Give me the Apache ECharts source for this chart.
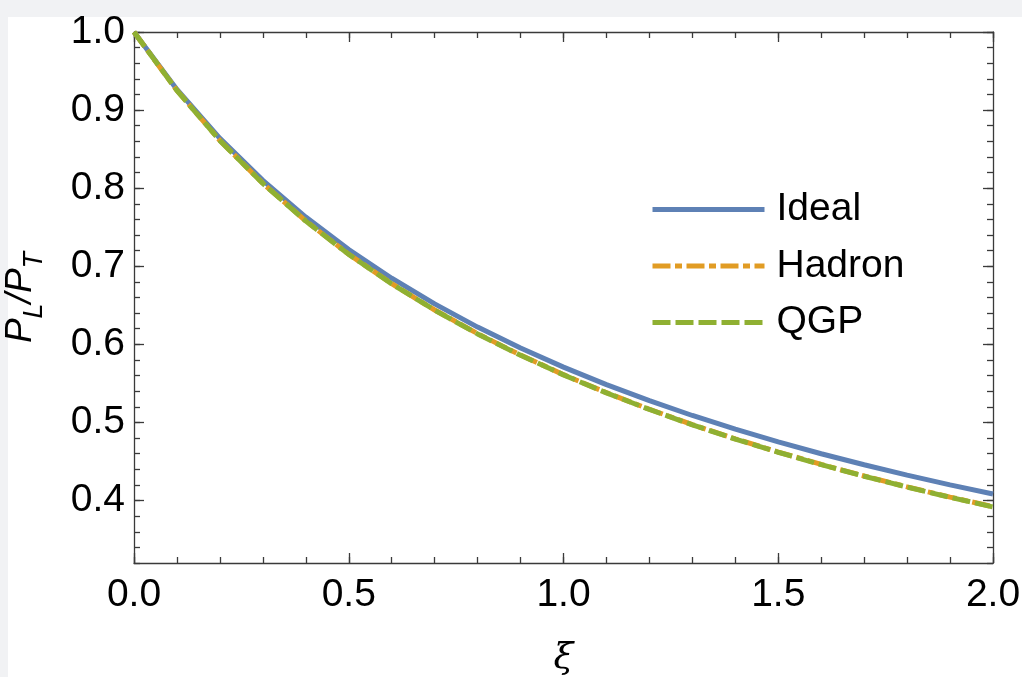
<!DOCTYPE html>
<html>
<head>
<meta charset="utf-8">
<script src="https://cdn.jsdelivr.net/npm/echarts@6/dist/echarts.min.js"></script>
<style>
  html, body { margin: 0; padding: 0; background: #f1f2f4; }
  #sheet { position: absolute; left: 8px; top: 17px; right: 0; bottom: 0; background: #ffffff; }
  #chart { position: absolute; left: 0; top: 0; width: 1022px; height: 677px; }
</style>
</head>
<body>
<div id="sheet"></div>
<div id="chart"></div>
<script>
// Anisotropy parameter xi
const xi = [0, 0.1, 0.2, 0.3, 0.4, 0.5, 0.6, 0.7, 0.8, 0.9, 1.0,
            1.1, 1.2, 1.3, 1.4, 1.5, 1.6, 1.7, 1.8, 1.9, 2.0];

// Pressure ratio P_L / P_T for each equation of state
const ideal = [1.0, 0.9265, 0.8639, 0.8100, 0.7630, 0.7215, 0.6847, 0.6518, 0.6221, 0.5953, 0.5708,
               0.5484, 0.5279, 0.5089, 0.4914, 0.4751, 0.4599, 0.4458, 0.4326, 0.4201, 0.4084];
const hadron = [1.0, 0.9251, 0.8610, 0.8062, 0.7580, 0.7154, 0.6777, 0.6440, 0.6137, 0.5863, 0.5612,
                0.5381, 0.5169, 0.4972, 0.4790, 0.4621, 0.4462, 0.4314, 0.4175, 0.4044, 0.3921];
const qgp = [1.0, 0.9250, 0.8609, 0.8060, 0.7578, 0.7152, 0.6775, 0.6438, 0.6134, 0.5860, 0.5609,
             0.5378, 0.5166, 0.4969, 0.4787, 0.4618, 0.4459, 0.4311, 0.4172, 0.4041, 0.3918];

// Tick positions
const xMajor = [0, 0.5, 1.0, 1.5, 2.0];
const xMinor = [0, 0.1, 0.2, 0.3, 0.4, 0.5, 0.6, 0.7, 0.8, 0.9, 1.0,
                1.1, 1.2, 1.3, 1.4, 1.5, 1.6, 1.7, 1.8, 1.9, 2.0];
const yMajor = [0.4, 0.5, 0.6, 0.7, 0.8, 0.9, 1.0];
const yMinor = [0.32, 0.34, 0.36, 0.38, 0.40, 0.42, 0.44, 0.46, 0.48, 0.50, 0.52, 0.54, 0.56, 0.58,
                0.60, 0.62, 0.64, 0.66, 0.68, 0.70, 0.72, 0.74, 0.76, 0.78, 0.80, 0.82, 0.84, 0.86,
                0.88, 0.90, 0.92, 0.94, 0.96, 0.98, 1.00];

const FONT = 'Liberation Sans, Arial, sans-serif';
const AXIS_COLOR = '#3a3a3a';
const frameLine = { color: AXIS_COLOR, width: 1.3 };

function tickAxis(position, range, ticks, len, opts) {
  return Object.assign({
    type: 'value',
    position: position,
    min: range[0],
    max: range[1],
    axisLine: { show: false, onZero: false },
    axisTick: { show: true, inside: true, length: len, customValues: ticks, lineStyle: frameLine },
    axisLabel: { show: false },
    splitLine: { show: false }
  }, opts || {});
}

const labelStyle = { color: '#000', fontFamily: FONT, fontSize: 39, lineHeight: 39 };

const chart = echarts.init(document.getElementById('chart'), null, { renderer: 'canvas' });

chart.setOption({
  animation: false,
  backgroundColor: 'transparent',
  grid: { left: 134, right: 29, top: 32, bottom: 114, containLabel: false, outerBoundsMode: 'none' },
  legend: {
    orient: 'vertical',
    left: 650,
    top: 190,
    itemWidth: 112,
    itemHeight: 12,
    itemGap: 17.5,
    padding: 0,
    lineStyle: { width: 5 },
    itemStyle: { color: 'rgba(0,0,0,0)', borderWidth: 0, opacity: 0 },
    textStyle: Object.assign({}, labelStyle, { padding: [0, 0, 0, 7] }),
    data: ['Ideal', 'Hadron', 'QGP']
  },
  xAxis: [
    tickAxis('bottom', [0, 2], xMajor, 10, {
      axisLine: { show: true, onZero: false, lineStyle: frameLine },
      axisLabel: Object.assign({ show: true, customValues: xMajor, margin: 13,
        formatter: v => v.toFixed(1) }, labelStyle),
      name: 'ξ',
      nameLocation: 'middle',
      nameGap: 78,
      nameTextStyle: { color: '#000', fontFamily: 'DejaVu Serif, serif', fontStyle: 'italic', fontSize: 36 }
    }),
    tickAxis('bottom', [0, 2], xMinor, 6),
    tickAxis('top', [0, 2], xMajor, 10, { axisLine: { show: true, onZero: false, lineStyle: frameLine } }),
    tickAxis('top', [0, 2], xMinor, 6)
  ],
  yAxis: [
    tickAxis('left', [0.32, 1.0], yMajor, 10, {
      axisLine: { show: true, onZero: false, lineStyle: frameLine },
      axisLabel: Object.assign({ show: true, customValues: yMajor, margin: 9,
        formatter: v => v.toFixed(1) }, labelStyle),
      name: '{i|P}{s|L}{i|/P}{s|T}',
      nameLocation: 'middle',
      nameRotate: 90,
      nameGap: 86,
      nameTextStyle: {
        rich: {
          i: { fontFamily: FONT, fontStyle: 'italic', fontSize: 37, lineHeight: 37,
               color: '#000', verticalAlign: 'bottom', padding: [0, 0, 9, 0] },
          s: { fontFamily: FONT, fontStyle: 'italic', fontSize: 27, lineHeight: 27,
               color: '#000', verticalAlign: 'bottom' }
        }
      }
    }),
    tickAxis('left', [0.32, 1.0], yMinor, 6),
    tickAxis('right', [0.32, 1.0], yMajor, 10, { axisLine: { show: true, onZero: false, lineStyle: frameLine } }),
    tickAxis('right', [0.32, 1.0], yMinor, 6)
  ],
  series: [
    {
      name: 'Ideal', type: 'line', symbol: 'none', clip: false, z: 3,
      data: xi.map((x, i) => [x, ideal[i]]),
      lineStyle: { color: '#5e81b5', width: 5, cap: 'butt' },
      itemStyle: { color: '#5e81b5' }
    },
    {
      name: 'Hadron', type: 'line', symbol: 'none', clip: false, z: 4,
      data: xi.map((x, i) => [x, hadron[i]]),
      lineStyle: { color: '#e19c24', width: 5, type: [18, 4.5, 7, 4.5], cap: 'butt' },
      itemStyle: { color: '#e19c24' }
    },
    {
      name: 'QGP', type: 'line', symbol: 'none', clip: false, z: 5,
      data: xi.map((x, i) => [x, qgp[i]]),
      lineStyle: { color: '#8fb032', width: 5, type: [18, 5], cap: 'butt' },
      itemStyle: { color: '#8fb032' }
    }
  ]
});
</script>
</body>
</html>
